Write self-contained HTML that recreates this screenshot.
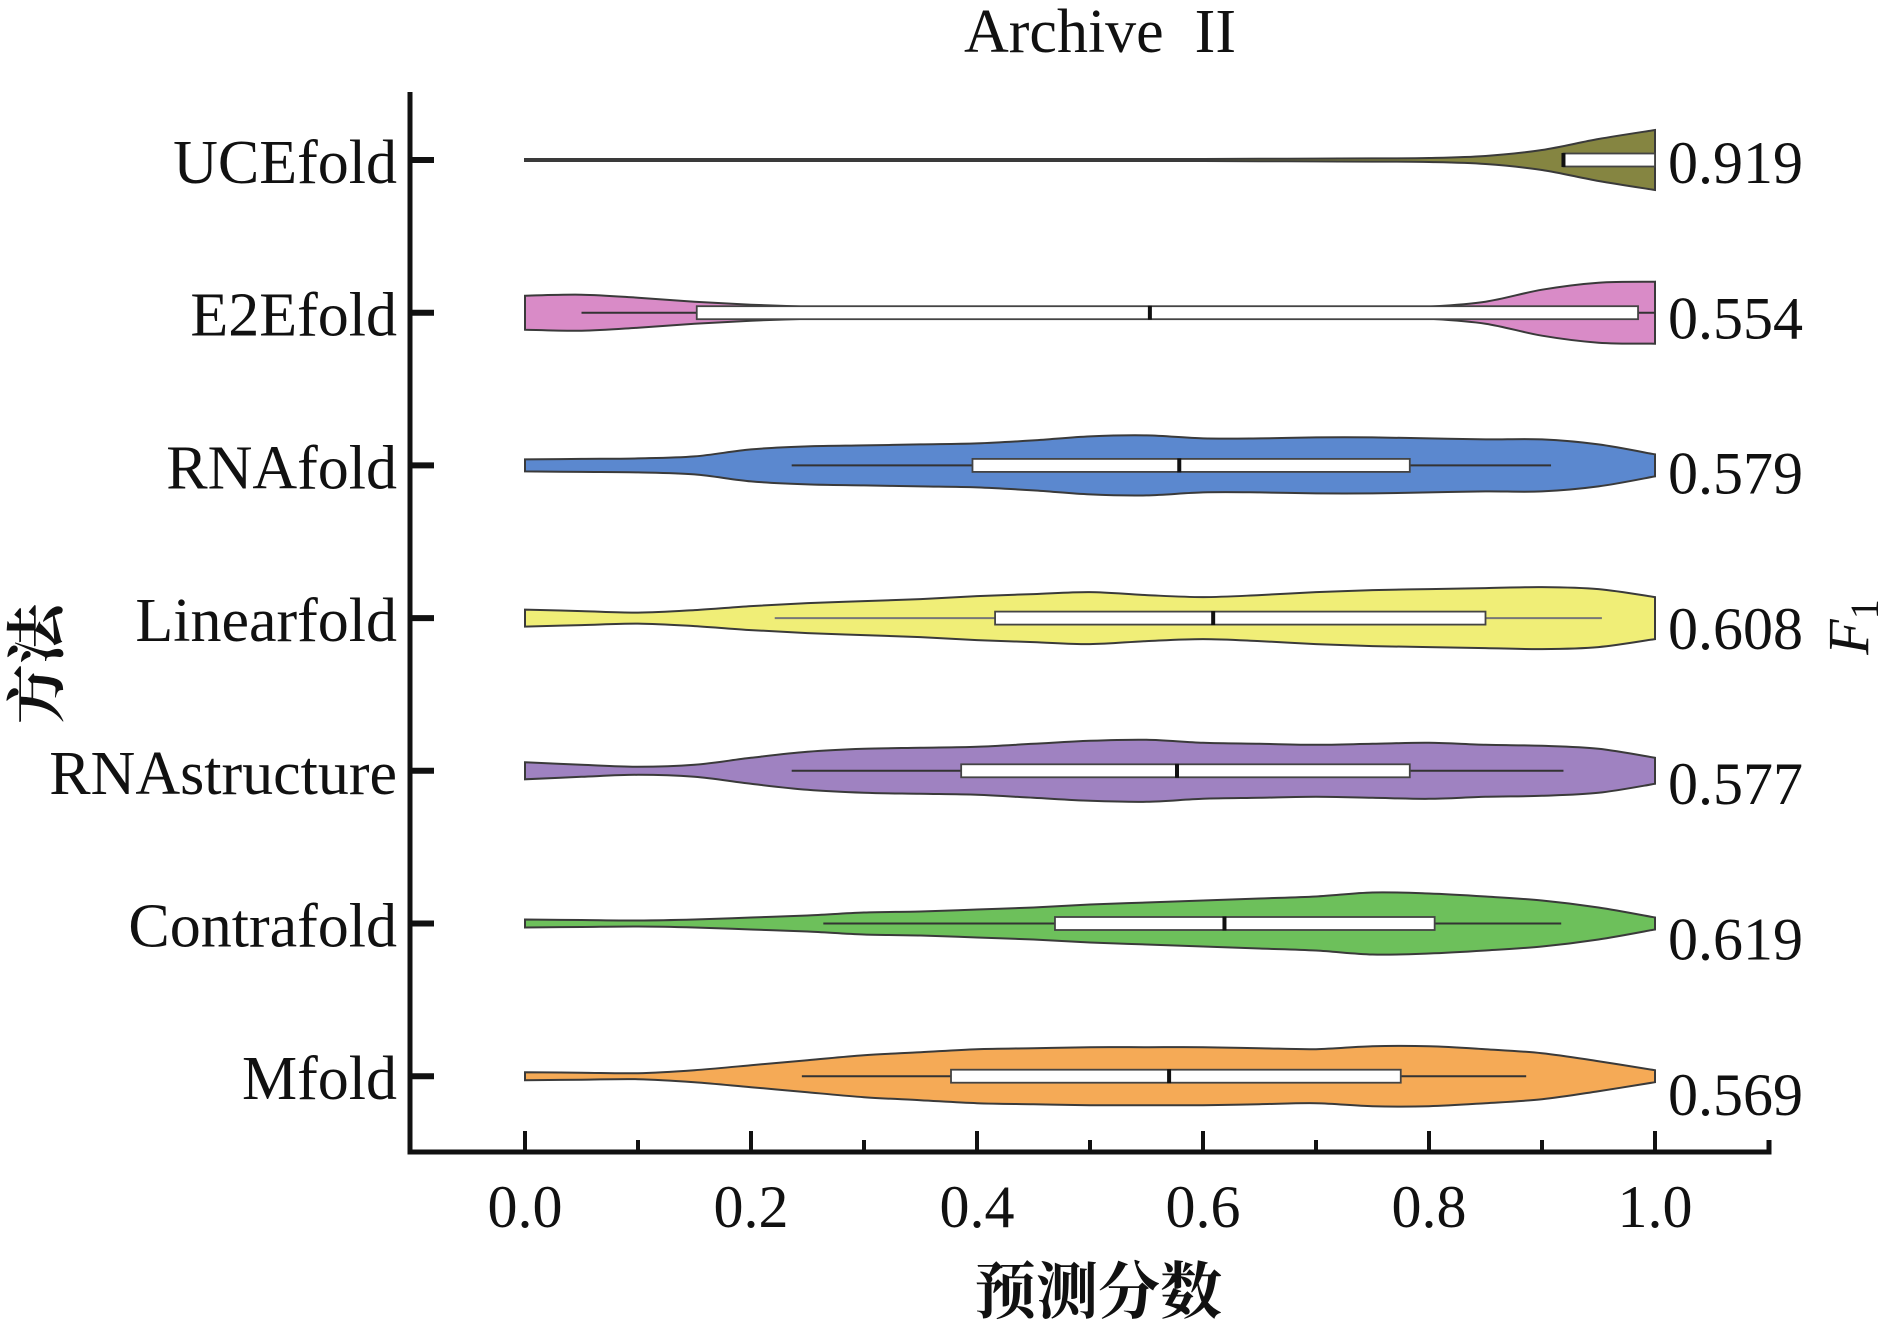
<!DOCTYPE html>
<html><head><meta charset="utf-8"><style>
html,body{margin:0;padding:0;background:#fff;}
svg{display:block;}
text{font-family:"Liberation Serif","Noto Serif CJK SC",serif;fill:#111;}
</style></head><body>
<svg id="chart" width="1890" height="1327" viewBox="0 0 1890 1327" xmlns="http://www.w3.org/2000/svg">
<text x="1100" y="52" font-size="62" text-anchor="middle" xml:space="preserve">Archive  II</text>
<g id="plot"></g>
<text x="1098" y="1313" font-size="62" font-weight="bold" text-anchor="middle" style="font-family:'Noto Serif CJK SC','Noto Sans CJK SC',serif">预测分数</text>
<text x="0" y="0" font-size="60" font-weight="bold" text-anchor="middle" transform="translate(58,664) rotate(-90)" style="font-family:'Noto Serif CJK SC','Noto Sans CJK SC',serif">方法</text>
<text x="0" y="0" font-size="58" font-style="italic" text-anchor="middle" transform="translate(1868,627) rotate(-90)">F<tspan font-size="40" dy="10" font-style="normal">1</tspan></text>
</svg>
<script>
const methods = ["UCEfold","E2Efold","RNAfold","Linearfold","RNAstructure","Contrafold","Mfold"];
const f1Values = ["0.919","0.554","0.579","0.608","0.577","0.619","0.569"];
const colors = ["#858541","#d98bc7","#5b88cf","#f0ee77","#9f82c1","#6dc05b","#f5aa56"];
const densityGrid = [0,0.05,0.1,0.15,0.2,0.25,0.3,0.35,0.4,0.45,0.5,0.55,0.6,0.65,0.7,0.75,0.8,0.85,0.9,0.95,1.0];
const densUCE = [1,1,1,1,1,1,1,1,1,1,1,1,1,1.2,1.4,1.6,2,4,10,21,30];
const densE2E = [17,18,15,11,8,6,5,4,3,2.5,2,1.5,1.5,2,3,4,6,11,23,30,31];
const densRNAfold = [6,6.5,7,9,16,19,20,21,22,25,29,30,27,27,28,28,27,26,26,21,11];
const densLinear = [8.5,7,5.5,8,12,15,17,19,22,24,26,23,21,23,26,28,29,30,31,29,21];
const densRNAstruct = [8.5,6,4,6,13,19,22,23,24,27,30,31,28,27,26,27,28,26,25,22,13];
const densContra = [4,3.5,3,4,6,8,11,12,14,16,19,21,23,25,27,31,30,27,23,16,6];
const densMfold = [4,3.5,3,6,11,16,21,24,27,28,29,29,29,28,27,30,30,27,23,15,6];
const densities = [densUCE,densE2E,densRNAfold,densLinear,densRNAstruct,densContra,densMfold];
const whiskerLo = [0.919,0.05,0.236,0.221,0.236,0.264,0.245];
const q1 = [0.919,0.152,0.396,0.416,0.386,0.469,0.377];
const medians = [0.919,0.553,0.579,0.609,0.577,0.619,0.570];
const q3 = [1.0,0.985,0.783,0.85,0.783,0.805,0.775];
const whiskerHi = [1.0,1.0,0.908,0.953,0.919,0.917,0.886];
const xTicks = [0,0.2,0.4,0.6,0.8,1.0];
const xTickLabels = ["0.0","0.2","0.4","0.6","0.8","1.0"];
const xMinorTicks = [0.1,0.3,0.5,0.7,0.9];

const NS="http://www.w3.org/2000/svg";
const plot=document.getElementById('plot');
const X0=525, X1=1655;
const xScale=v=>X0+(X1-X0)*v;
const rowY=i=>160+i*152.7;
function mk(tag,attrs,parent){const e=document.createElementNS(NS,tag);for(const k in attrs)e.setAttribute(k,attrs[k]);(parent||plot).appendChild(e);return e;}
function catmull(pts){let d="";for(let i=0;i<pts.length-1;i++){const p0=pts[Math.max(0,i-1)],p1=pts[i],p2=pts[i+1],p3=pts[Math.min(pts.length-1,i+2)];
 d+=` C${p1[0]+(p2[0]-p0[0])/6},${p1[1]+(p2[1]-p0[1])/6} ${p2[0]-(p3[0]-p1[0])/6},${p2[1]-(p3[1]-p1[1])/6} ${p2[0]},${p2[1]}`;}return d;}

let ax=mk('path',{d:`M410,92 L410,1152 L1769,1152 L1769,1140`,fill:'none',stroke:'#111','stroke-width':5});


xTicks.forEach((v,i)=>{
 const t=mk('line',{x1:xScale(v),x2:xScale(v),y1:1131,y2:1152,stroke:'#111','stroke-width':4});
 
 
 const l=mk('text',{x:xScale(v),y:1227,'font-size':60,'text-anchor':'middle'});
 
 
 l.textContent=xTickLabels[i];
});
xMinorTicks.forEach(v=>{
 const t=mk('line',{x1:xScale(v),x2:xScale(v),y1:1140,y2:1152,stroke:'#111','stroke-width':4});
 
 
});

methods.forEach((m,i)=>{
 const cy=rowY(i);
 const tk=mk('line',{x1:410,x2:434,y1:cy,y2:cy,stroke:'#111','stroke-width':6});
 
 
 const lab=mk('text',{x:397,y:cy+23,'font-size':62,'text-anchor':'end'});
 
 
 lab.textContent=m;
 const g=mk('g',{});
 
 
 const dens=densities[i];
 const top=densityGrid.map((v,k)=>[xScale(v),cy-dens[k]]);
 const bot=densityGrid.map((v,k)=>[xScale(v),cy+dens[k]]).reverse();
 const d=`M${top[0][0]},${top[0][1]}`+catmull(top)+` L${bot[0][0]},${bot[0][1]}`+catmull(bot)+'Z';
 const vp=mk('path',{d:d,fill:colors[i],stroke:'#3a3a3a','stroke-width':2},g);
 
 
 const wl=mk('line',{x1:xScale(whiskerLo[i]),x2:xScale(whiskerHi[i]),y1:cy,y2:cy,stroke:i===3?'#777':'#333','stroke-width':2},g);
 
 
 const bx=mk('rect',{x:xScale(q1[i]),y:cy-6.5,width:xScale(q3[i])-xScale(q1[i]),height:13,fill:'#fff',stroke:'#444','stroke-width':1.8},g);
 
 
 const md=mk('line',{x1:xScale(medians[i]),x2:xScale(medians[i]),y1:cy-7,y2:cy+7,stroke:'#111','stroke-width':4},g);
 
 
 const fv=mk('text',{x:1668,y:183+i*155.3,'font-size':60});
 
 
 fv.textContent=f1Values[i];
});
</script>
</body></html>
